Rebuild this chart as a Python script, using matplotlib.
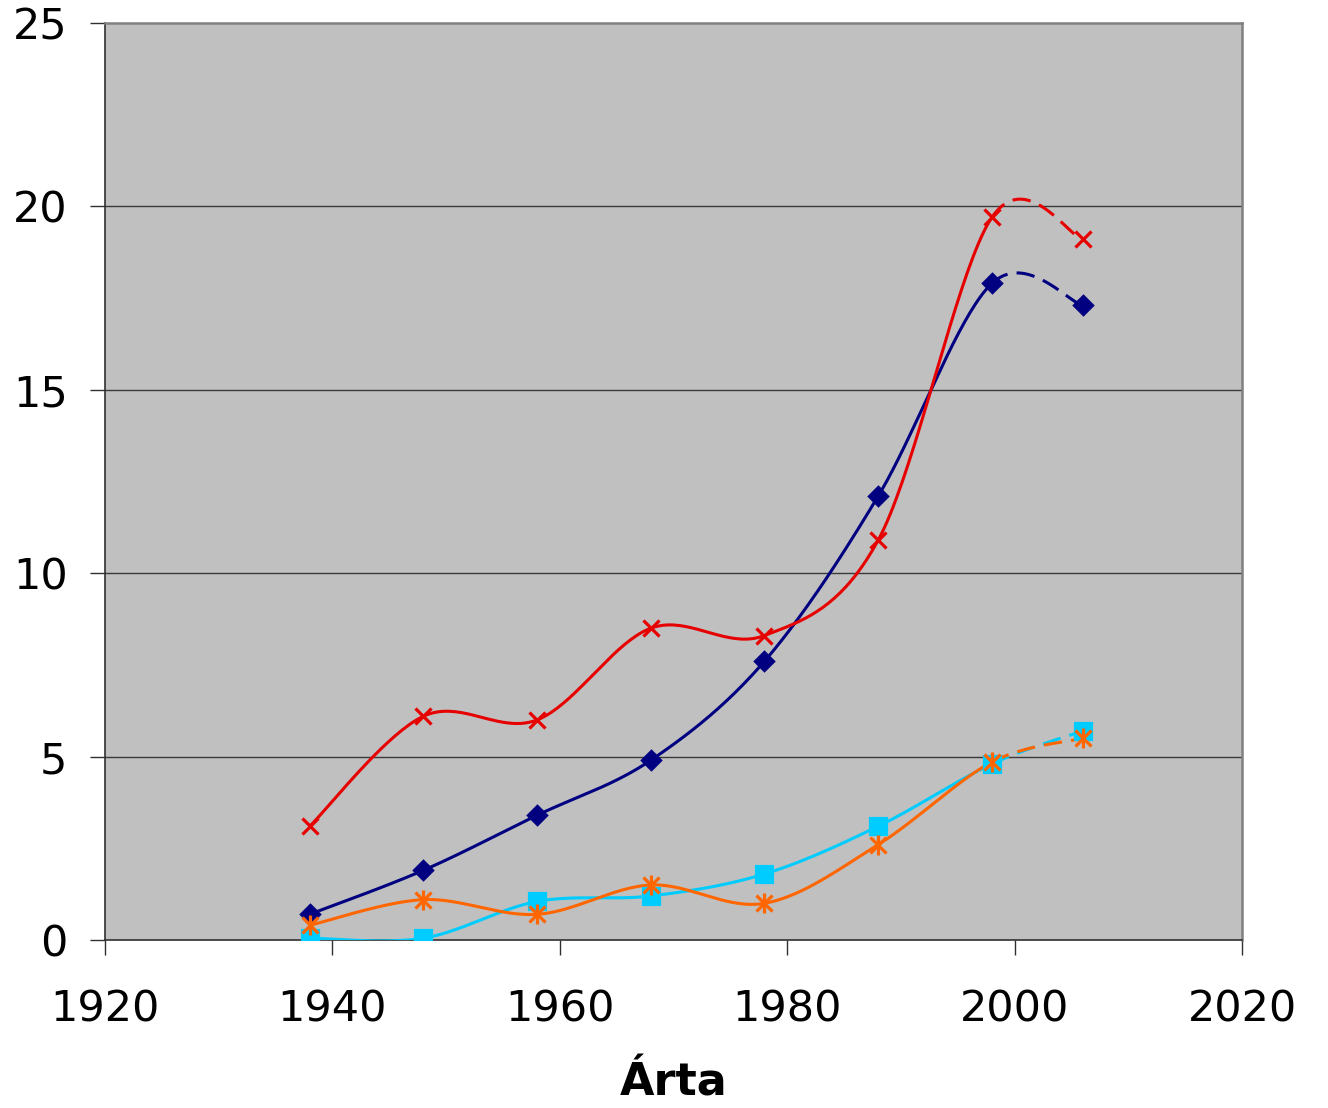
import numpy as np
import matplotlib
matplotlib.use("Agg")
import matplotlib.pyplot as plt

years = [1938, 1948, 1958, 1968, 1978, 1988, 1998, 2006]
navy_vals = [0.7, 1.9, 3.4, 4.9, 7.6, 12.1, 17.9, 17.3]
red_vals = [3.1, 6.1, 6.0, 8.5, 8.3, 10.9, 19.7, 19.1]
cyan_vals = [0.05, 0.05, 1.05, 1.2, 1.8, 3.1, 4.8, 5.7]
orange_vals = [0.4, 1.1, 0.7, 1.5, 1.0, 2.6, 4.85, 5.5]

x_ticks = [1920, 1940, 1960, 1980, 2000, 2020]
y_ticks = [0, 5, 10, 15, 20, 25]
x_label = "Árta"


def smooth_segments(xs, ys, n=40):
    """Excel-like Bezier smoothing; returns list of per-segment arrays."""
    xs = np.asarray(xs, float)
    ys = np.asarray(ys, float)
    m = len(xs)
    segs = []
    t = np.linspace(0, 1, n)
    for i in range(m - 1):
        p0 = np.array([xs[i], ys[i]])
        p3 = np.array([xs[i + 1], ys[i + 1]])
        pm = np.array([xs[i - 1], ys[i - 1]]) if i > 0 else p0
        pp = np.array([xs[i + 2], ys[i + 2]]) if i + 2 < m else p3
        c1 = p0 + (p3 - pm) / 6.0
        c2 = p3 - (pp - p0) / 6.0
        pts = ((1 - t) ** 3)[:, None] * p0 + (3 * (1 - t) ** 2 * t)[:, None] * c1 \
            + (3 * (1 - t) * t ** 2)[:, None] * c2 + (t ** 3)[:, None] * p3
        segs.append(pts)
    return segs


fig = plt.figure(figsize=(13.28, 11.08), dpi=100)
ax = fig.add_axes([105 / 1328, 1 - 940 / 1108, (1242 - 105) / 1328, (940 - 23) / 1108])
ax.set_facecolor("#C0C0C0")
ax.set_xlim(1920, 2020)
ax.set_ylim(0, 25)

for yv in y_ticks[1:-1]:
    ax.axhline(yv, color="#3a3a3a", lw=1.0, zorder=1)

series = [
    (navy_vals, "#000080", "D", 9, None),
    (red_vals, "#E60000", "x", 12, None),
    (cyan_vals, "#00CCFF", "s", 12, None),
    (orange_vals, "#FF6600", "x", 11, "|"),
]

for vals, col, mk, ms, mk2 in series:
    segs = smooth_segments(years, vals)
    solid = np.vstack(segs[:-1])
    ax.plot(solid[:, 0], solid[:, 1], color=col, lw=2.2, zorder=3,
            solid_capstyle="round")
    ax.plot(segs[-1][:, 0], segs[-1][:, 1], color=col, lw=2.2, zorder=3,
            dashes=(6, 3))
    ax.plot(years, vals, linestyle="none", marker=mk, markersize=ms,
            color=col, markeredgecolor=col, markeredgewidth=2.3, zorder=4)
    if mk2:
        ax.plot(years, vals, linestyle="none", marker=mk2, markersize=ms + 3,
                color=col, markeredgewidth=2.3, zorder=4)

for s in ["top", "right"]:
    ax.spines[s].set_color("#808080")
    ax.spines[s].set_linewidth(1.8)
for s in ["left", "bottom"]:
    ax.spines[s].set_color("#303030")
    ax.spines[s].set_linewidth(1.2)

ax.set_xticks(x_ticks)
ax.set_yticks(y_ticks)
ax.set_xticklabels([str(v) for v in x_ticks])
ax.set_yticklabels([str(v) for v in y_ticks])
ax.tick_params(axis="both", direction="out", length=11, width=1.0,
               color="#303030", labelsize=31)
ax.tick_params(axis="x", pad=24)
ax.tick_params(axis="y", pad=16)

ax.set_xlabel(x_label, fontsize=32, fontweight="bold", labelpad=22)

fig.savefig("out.png", dpi=100)
